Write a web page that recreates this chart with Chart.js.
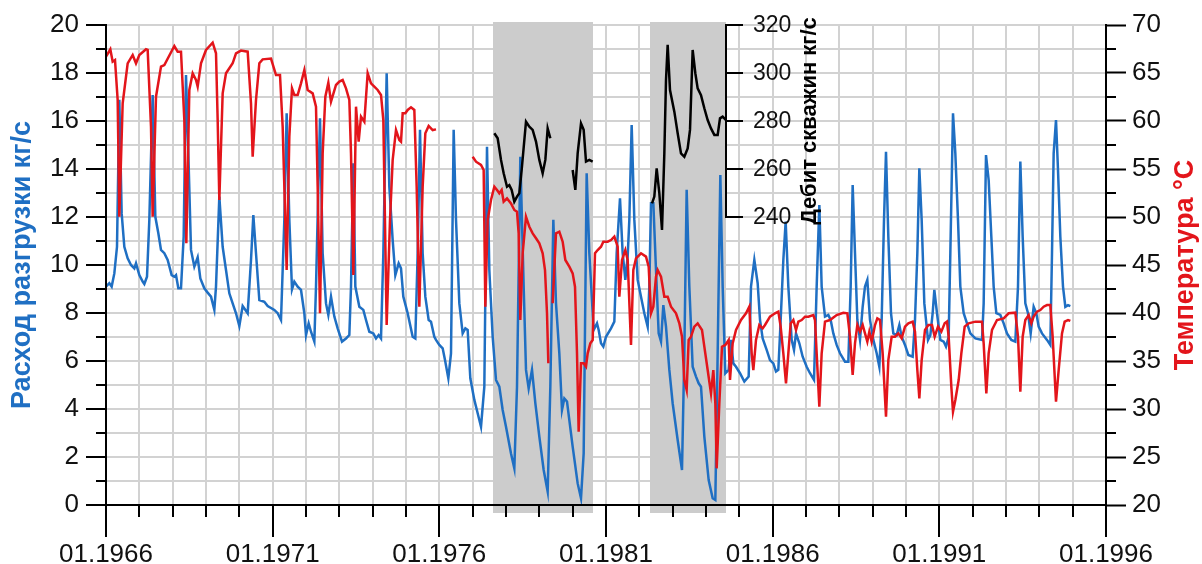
<!DOCTYPE html>
<html>
<head>
<meta charset="utf-8">
<script src="https://cdn.jsdelivr.net/npm/chart.js@4.4.0/dist/chart.umd.min.js"></script>
<style>
  html, body { margin: 0; padding: 0; background: #fff; }
</style>
</head>
<body>
<canvas id="chart" width="1202" height="564"></canvas>
<script>
// --- data ---
const xLabelYears = [1966, 1971, 1976, 1981, 1986, 1991, 1996];
const leftLabels = [0, 2, 4, 6, 8, 10, 12, 14, 16, 18, 20];
const rightLabels = [20, 25, 30, 35, 40, 45, 50, 55, 60, 65, 70];
const debitLabels = [240, 260, 280, 300, 320];

// shaded periods (years)
const shadeFrom = [1977.61, 1982.32];
const shadeTo = [1980.61, 1984.6];

// Расход разгрузки, кг/с
const blueYears = [
  1966.00, 1966.10, 1966.17, 1966.25, 1966.33, 1966.40, 1966.47, 1966.55, 1966.65, 1966.75, 1966.85, 1966.90,
  1967.00, 1967.10, 1967.15, 1967.23, 1967.30, 1967.40, 1967.48, 1967.57, 1967.65, 1967.75, 1967.85, 1967.97,
  1968.05, 1968.10, 1968.17, 1968.25, 1968.33, 1968.40, 1968.47, 1968.55, 1968.65, 1968.75, 1968.83, 1968.95,
  1969.05, 1969.15, 1969.25, 1969.30, 1969.40, 1969.50, 1969.60, 1969.70, 1969.80, 1969.90,
  1970.00, 1970.10, 1970.25, 1970.35, 1970.42, 1970.50, 1970.60, 1970.75, 1970.85,
  1971.05, 1971.15, 1971.25, 1971.30, 1971.35, 1971.42, 1971.50, 1971.58, 1971.65, 1971.75, 1971.85, 1971.95,
  1972.00, 1972.08, 1972.15, 1972.25, 1972.30, 1972.42, 1972.50, 1972.60, 1972.67, 1972.75, 1972.85, 1972.95,
  1973.08, 1973.20, 1973.30, 1973.35, 1973.42, 1973.48, 1973.60, 1973.72, 1973.80, 1973.90,
  1974.02, 1974.10, 1974.18, 1974.25, 1974.32, 1974.42, 1974.50, 1974.60, 1974.68, 1974.78, 1974.85, 1974.92,
  1975.05, 1975.20, 1975.28, 1975.35, 1975.42, 1975.50, 1975.58, 1975.68, 1975.75, 1975.85, 1975.90,
  1976.00, 1976.10, 1976.17, 1976.27, 1976.35, 1976.43, 1976.50, 1976.60, 1976.70, 1976.78, 1976.85, 1976.93,
  1977.05, 1977.15, 1977.25, 1977.35, 1977.43, 1977.50, 1977.60, 1977.70, 1977.80, 1977.90,
  1978.00, 1978.15, 1978.25, 1978.33, 1978.43, 1978.53, 1978.60, 1978.68, 1978.78, 1978.88,
  1979.00, 1979.13, 1979.25, 1979.33, 1979.42, 1979.50, 1979.60, 1979.68, 1979.75, 1979.83, 1979.90,
  1980.00, 1980.15, 1980.25, 1980.33, 1980.42, 1980.50, 1980.63, 1980.73, 1980.78, 1980.85, 1980.92,
  1981.00, 1981.15, 1981.25, 1981.32, 1981.42, 1981.50, 1981.58, 1981.65, 1981.70, 1981.77, 1981.85, 1981.95,
  1982.05, 1982.15, 1982.25, 1982.30, 1982.35, 1982.42, 1982.50, 1982.58, 1982.65, 1982.72, 1982.80, 1982.90,
  1983.00, 1983.15, 1983.28, 1983.35, 1983.42, 1983.50, 1983.60, 1983.70, 1983.78, 1983.85, 1983.95,
  1984.08, 1984.20, 1984.28, 1984.35, 1984.43, 1984.50, 1984.58, 1984.68, 1984.75, 1984.82, 1984.90,
  1985.02, 1985.15, 1985.28, 1985.35, 1985.45, 1985.55, 1985.62, 1985.70, 1985.82, 1985.92,
  1986.02, 1986.10, 1986.17, 1986.24, 1986.32, 1986.39, 1986.47, 1986.57, 1986.64, 1986.70, 1986.80, 1986.90,
  1987.02, 1987.12, 1987.24, 1987.32, 1987.40, 1987.47, 1987.57, 1987.67, 1987.74, 1987.82, 1987.92,
  1988.02, 1988.17, 1988.27, 1988.34, 1988.40, 1988.47, 1988.54, 1988.62, 1988.70, 1988.77, 1988.84, 1988.92,
  1989.02, 1989.12, 1989.20, 1989.27, 1989.34, 1989.40, 1989.47, 1989.55, 1989.62, 1989.72, 1989.80, 1989.87, 1989.97,
  1990.07, 1990.20, 1990.27, 1990.34, 1990.40, 1990.47, 1990.55, 1990.66, 1990.73, 1990.80, 1990.85, 1990.93,
  1991.03, 1991.13, 1991.20, 1991.28, 1991.33, 1991.41, 1991.48, 1991.56, 1991.63, 1991.73, 1991.83, 1991.93,
  1992.08, 1992.28, 1992.33, 1992.40, 1992.48, 1992.56, 1992.63, 1992.71, 1992.83, 1992.93,
  1993.03, 1993.16, 1993.28, 1993.36, 1993.43, 1993.50, 1993.58, 1993.66, 1993.74, 1993.83, 1993.91, 1993.98,
  1994.08, 1994.23, 1994.33, 1994.38, 1994.43, 1994.50, 1994.56, 1994.63, 1994.71, 1994.78, 1994.86, 1994.93
];
const blueValues = [
  9.1, 9.24, 9.1, 9.65, 10.76, 16.88, 12.15, 10.76, 10.28, 10.0, 9.86, 10.07,
  9.58, 9.31, 9.21, 9.51, 11.88, 17.08, 12.01, 11.32, 10.63, 10.49, 10.21, 9.58,
  9.51, 9.58, 9.03, 9.03, 11.18, 17.92, 14.65, 10.63, 9.93, 10.32, 9.44, 9.03,
  8.85, 8.68, 8.13, 9.1, 12.85, 10.76, 9.79, 8.82, 8.4, 7.99,
  7.46, 8.29, 7.99, 10.21, 12.08, 10.49, 8.54, 8.47, 8.29,
  8.13, 7.99, 7.71, 9.79, 11.88, 16.32, 11.88, 8.99, 9.31, 9.1, 8.96, 7.99,
  7.08, 7.57, 7.22, 6.81, 9.1, 16.11, 10.49, 8.4, 7.92, 8.68, 7.85, 7.36,
  6.81, 6.94, 7.08, 9.1, 14.24, 9.1, 8.26, 8.13, 7.71, 7.22,
  7.15, 6.94, 7.08, 6.94, 10.49, 17.99, 13.26, 11.04, 9.58, 10.07, 9.86, 8.68,
  7.99, 7.01, 6.94, 10.49, 15.63, 10.49, 8.68, 7.71, 7.64, 7.01, 6.88,
  6.67, 6.53, 6.04, 5.28, 6.32, 15.63, 11.88, 8.4, 7.15, 7.36, 7.29, 5.28,
  4.38, 3.82, 3.26, 4.93, 14.93, 9.79, 7.01, 5.21, 4.93, 3.96,
  3.26, 2.15, 1.53, 4.93, 14.51, 9.1, 5.63, 4.86, 5.63, 4.24,
  2.85, 1.46, 0.56, 4.93, 11.88, 8.4, 6.32, 3.96, 4.44, 4.31, 3.54,
  2.43, 0.9, 0.28, 2.15, 13.82, 10.49, 7.29, 7.57, 7.29, 6.74, 6.6,
  7.01, 7.36, 7.64, 10.49, 12.78, 10.49, 9.38, 10.35, 11.88, 15.83, 11.88, 9.38,
  8.68, 7.99, 7.43, 9.1, 12.57, 12.57, 9.79, 7.15, 6.81, 8.33, 7.43, 5.63,
  4.24, 2.71, 1.46, 6.32, 13.13, 9.1, 5.76, 5.35, 5.07, 4.93, 2.85,
  1.04, 0.28, 0.21, 6.32, 13.75, 9.1, 5.49, 5.63, 6.88, 5.9, 5.76,
  5.49, 5.14, 5.35, 9.1, 10.21, 9.24, 7.71, 6.94, 6.46, 6.04,
  5.9, 5.56, 5.63, 7.71, 10.21, 11.81, 9.1, 6.88, 6.46, 7.15, 6.74, 6.18,
  5.76, 5.49, 5.21, 9.1, 12.5, 9.1, 7.85, 7.92, 7.71, 7.15, 6.67,
  6.32, 5.97, 5.97, 9.1, 13.33, 10.49, 7.71, 6.88, 8.26, 9.1, 9.38, 7.71,
  6.88, 6.32, 5.76, 7.71, 11.88, 14.72, 11.18, 7.99, 7.15, 7.08, 7.5, 7.01, 6.67,
  6.25, 6.18, 7.71, 10.49, 14.03, 11.88, 8.4, 6.88, 7.08, 7.99, 8.96, 7.99,
  6.88, 6.81, 6.6, 7.01, 10.49, 16.32, 14.65, 11.88, 9.1, 7.99, 7.57, 7.15,
  6.94, 6.88, 8.4, 14.58, 13.54, 11.18, 9.1, 7.99, 7.92, 7.57,
  7.15, 6.88, 6.81, 9.1, 14.31, 11.18, 8.4, 7.99, 7.15, 8.26, 7.99, 7.43,
  7.15, 6.88, 6.67, 10.49, 14.65, 16.04, 13.96, 11.18, 9.1, 8.26, 8.33, 8.29
];

// Температура, °C (null = no measurement)
const redYears = [
  1966.00, 1966.13, 1966.20, 1966.27, 1966.35, 1966.40, 1966.50, 1966.65, 1966.80, 1966.90,
  1967.00, 1967.20, 1967.25, 1967.35, 1967.40, 1967.50, 1967.65, 1967.75,
  1968.05, 1968.15, 1968.25, 1968.35, 1968.41, 1968.50, 1968.60, 1968.70, 1968.75, 1968.85,
  1969.00, 1969.20, 1969.30, 1969.35, 1969.40, 1969.50, 1969.60, 1969.80, 1969.90,
  1970.05, 1970.25, 1970.35, 1970.40, 1970.50, 1970.60, 1970.70, 1970.95,
  1971.10, 1971.22, 1971.30, 1971.42, 1971.50, 1971.58, 1971.65, 1971.75, 1971.85, 1971.95,
  1972.05, 1972.20, 1972.30, 1972.35, 1972.42, 1972.50, 1972.58, 1972.67, 1972.75, 1972.90,
  1973.00, 1973.10, 1973.20, 1973.30, 1973.35, 1973.42, 1973.50, 1973.58, 1973.65, 1973.75, 1973.85, 1973.95,
  1974.05, 1974.15, 1974.25, 1974.32, 1974.42, 1974.52, 1974.60, 1974.70, 1974.80, 1974.85, 1974.90, 1974.98,
  1975.05, 1975.15, 1975.25, 1975.32, 1975.40, 1975.50, 1975.58, 1975.68, 1975.80, 1975.90,
  1976.50,
  1977.00, 1977.10, 1977.25, 1977.33, 1977.38, 1977.45, 1977.55, 1977.65, 1977.73, 1977.80, 1977.87, 1977.93,
  1978.03, 1978.15, 1978.25, 1978.33, 1978.38, 1978.43, 1978.50, 1978.60, 1978.70, 1978.80, 1978.90,
  1979.00, 1979.10, 1979.17, 1979.23, 1979.27, 1979.33,
  1979.40, 1979.50, 1979.60, 1979.70, 1979.78, 1979.90,
  1980.00, 1980.07, 1980.13, 1980.18, 1980.25, 1980.33, 1980.40, 1980.45, 1980.53, 1980.60, 1980.67, 1980.75, 1980.85, 1980.92,
  1981.05, 1981.15, 1981.25, 1981.35, 1981.40, 1981.48, 1981.58, 1981.65, 1981.75, 1981.82, 1981.90,
  1982.05, 1982.20, 1982.28, 1982.35, 1982.42, 1982.50, 1982.55, 1982.65, 1982.75, 1982.85, 1982.95,
  1983.10, 1983.20, 1983.28, 1983.35, 1983.42, 1983.48, 1983.55, 1983.65, 1983.75, 1983.88, 1983.95,
  1984.05, 1984.15, 1984.22, 1984.28, 1984.32, 1984.40, 1984.48, 1984.58, 1984.68, 1984.72, 1984.80, 1984.90,
  1985.05, 1985.20, 1985.30, 1985.37, 1985.42, 1985.50, 1985.60, 1985.70, 1985.77, 1985.92,
  1986.07, 1986.17, 1986.24, 1986.32, 1986.40, 1986.47, 1986.54, 1986.62, 1986.70, 1986.77, 1986.87, 1986.97,
  1987.07, 1987.22, 1987.27, 1987.32, 1987.40, 1987.47, 1987.57, 1987.72, 1987.92,
  1988.12, 1988.24, 1988.32, 1988.40, 1988.47, 1988.54, 1988.62, 1988.70, 1988.77, 1988.84, 1988.90, 1988.97,
  1989.07, 1989.14, 1989.22, 1989.30, 1989.40, 1989.47, 1989.57, 1989.67, 1989.77, 1989.87, 1989.97,
  1990.07, 1990.20, 1990.27, 1990.34, 1990.40, 1990.47, 1990.57, 1990.67, 1990.78, 1990.86, 1990.96,
  1991.06, 1991.16, 1991.23, 1991.28, 1991.36, 1991.41, 1991.48, 1991.58, 1991.66, 1991.76, 1991.88,
  1992.08, 1992.28, 1992.33, 1992.41, 1992.48, 1992.58, 1992.73, 1992.93,
  1993.08, 1993.28, 1993.36, 1993.43, 1993.50, 1993.58, 1993.68, 1993.76, 1993.83, 1993.93,
  1994.03, 1994.13, 1994.23, 1994.33, 1994.40, 1994.50, 1994.58, 1994.68, 1994.76, 1994.86, 1994.93
];
const redValues = [
  66.7, 67.47, 66.18, 66.35, 62.19, 50.03, 61.84, 66.01, 66.88, 66.01,
  66.88, 67.47, 67.4, 59.41, 50.03, 62.53, 65.66, 65.83,
  67.81, 67.22, 67.22, 60.1, 47.26, 63.23, 64.97, 64.27, 63.58, 66.01,
  67.4, 68.16, 67.05, 60.1, 51.77, 62.88, 64.97, 66.01, 67.05,
  67.33, 67.22, 61.84, 56.28, 62.19, 66.01, 66.42, 66.5,
  64.79, 64.79, 59.41, 44.48, 58.37, 63.4, 62.71, 62.71, 63.92, 65.31,
  63.23, 62.88, 61.49, 53.16, 39.97, 56.63, 62.53, 63.99, 62.01, 63.75,
  64.1, 64.27, 63.4, 62.19, 56.63, 43.96, 61.49, 57.85, 60.45, 59.93, 64.97, 63.92,
  63.58, 63.23, 62.71, 60.1, 38.75, 49.69, 55.94, 59.06, 58.02, 57.85, 60.8, 60.8,
  61.15, 61.42, 61.15, 53.16, 40.66, 53.16, 58.72, 59.48, 59.06, 59.13,
  null,
  56.28, 55.76, 55.42, 54.9, 40.66, 49.69, 51.77, 53.16, 52.81, 52.47, 52.81, 51.6,
  51.94, 51.42, 50.73, 50.56, 48.3, 39.27, 46.22, 50.03, 48.99, 48.3, 47.78,
  47.26, 46.22, 44.48, 39.97, 34.76, null,
  41.01, 48.3, 48.47, 47.43, 45.52, 44.83,
  44.13, 42.74, 35.8, 27.64, 34.76, 34.76, 34.41, 35.8, 36.84, 37.19, 46.22, 46.56, 46.91, 47.43,
  47.43, 47.6, 47.95, 46.91, 41.7, 45.52, 46.56, 45.52, 36.67, 44.48, 45.69,
  46.22, 45.87, 44.83, 39.97, 40.66, 43.78, 44.48, 43.78, 41.7, 41.7, 40.66,
  39.97, 38.92, 37.53, 33.02, 31.98, 37.19, 37.53, 38.58, 38.92, 38.23, 36.49,
  34.06, 31.63, 34.06, 30.59, 23.82, 30.59, 36.49, 36.67, 37.19, 33.02, 36.84, 38.23,
  39.27, 39.97, 40.66, 35.8, 34.06, 37.19, 38.75, 38.4, 38.75, 39.62,
  39.97, 40.14, 38.58, 35.8, 32.67, 35.8, 38.92, 39.27, 38.23, 39.1, 39.27, 39.62,
  39.62, 39.79, 39.27, 35.8, 30.24, 35.8, 39.1, 39.27, 39.79,
  40.03, 39.97, 37.53, 33.54, 36.84, 38.75, 38.06, 38.75, 37.88, 37.01, 38.06, 37.01,
  38.75, 39.44, 39.27, 35.8, 29.2, 35.1, 37.53, 37.53, 37.88, 37.36, 38.58,
  38.92, 39.1, 38.06, 34.06, 31.11, 35.1, 38.23, 38.75, 38.75, 37.53, 38.58,
  38.06, 38.92, 39.1, 37.53, 32.33, 29.72, 30.94, 33.02, 35.8, 38.58, 38.92,
  39.1, 39.1, 36.84, 31.63, 35.8, 38.23, 39.27, 39.44,
  39.97, 40.03, 37.53, 31.81, 37.53, 39.27, 39.79, 38.92, 39.62, 40.14,
  40.31, 40.66, 40.83, 40.83, 37.53, 30.76, 34.06, 37.88, 39.1, 39.27, 39.17
];

// Дебит скважин, кг/с (null = no measurement)
const debitYears = [
  1977.65, 1977.75, 1977.85, 1977.93, 1978.03, 1978.10, 1978.17, 1978.25, 1978.33, 1978.40, 1978.47,
  1978.60, 1978.70, 1978.80, 1978.90, 1979.00, 1979.10, 1979.18, 1979.25, 1979.33,
  1979.60,
  1980.00, 1980.08, 1980.15, 1980.25, 1980.33, 1980.40, 1980.50, 1980.60,
  1981.50,
  1982.38, 1982.45, 1982.52, 1982.60, 1982.68, 1982.75, 1982.80, 1982.85, 1982.92,
  1983.05, 1983.15, 1983.25, 1983.35, 1983.45, 1983.52, 1983.60, 1983.68, 1983.75, 1983.85, 1983.95,
  1984.05, 1984.15, 1984.25, 1984.35, 1984.42, 1984.50, 1984.60
];
const debitValues = [
  274.9, 272.8, 263.8, 258.2, 252.6, 253.3, 251.3, 246.4, 248.5, 249.9, 259.6,
  279.7, 277.6, 276.3, 271.4, 263.8, 258.2, 263.8, 276.9, 272.8,
  null,
  259.6, 251.3, 266.5, 279.0, 276.3, 263.1, 263.8, 263.1,
  null,
  245.7, 248.5, 260.3, 249.9, 234.6, 266.5, 297.1, 311.7, 292.9,
  283.9, 274.9, 266.5, 265.1, 268.6, 276.3, 309.6, 299.9, 293.6, 290.8, 285.3,
  280.4, 276.9, 274.2, 274.2, 281.1, 281.8, 280.4
];

const FONT = '"Liberation Sans", Arial, sans-serif';
const BLUE = '#1f6fc3';
const RED = '#e3151b';
const GRID = '#d2d2d2';
const SHADE = '#cccccc';
const NONE = 'rgba(0,0,0,0)';

const yearTicks = [];
for (let y = 1966; y <= 1996; y++) yearTicks.push(y);

const toPoints = (xs, ys) => xs.map((x, i) => ({ x: x, y: ys[i] }));

// shaded periods, minor ticks, the debit axis and the two right titles
const decorations = {
  id: 'decorations',
  beforeDatasetsDraw(chart) {
    const { ctx, chartArea: a, scales: { x } } = chart;
    ctx.save();
    ctx.fillStyle = SHADE;
    shadeFrom.forEach((from, i) => {
      const x1 = x.getPixelForValue(from);
      const x2 = x.getPixelForValue(shadeTo[i]);
      ctx.fillRect(x1, a.top - 3, x2 - x1, a.bottom - a.top + 11);
    });
    ctx.restore();
  },
  afterDatasetsDraw(chart) {
    const { ctx, chartArea: a, scales: { x, y, y2, yd } } = chart;
    ctx.save();
    ctx.strokeStyle = '#000';
    ctx.lineWidth = 2;
    ctx.beginPath();
    yearTicks.forEach(v => {
      if (xLabelYears.includes(v)) return;
      const px = Math.round(x.getPixelForValue(v));
      ctx.moveTo(px, a.bottom);
      ctx.lineTo(px, a.bottom + 12);
    });
    for (let v = 1; v < 20; v += 2) {
      const py = Math.round(y.getPixelForValue(v));
      ctx.moveTo(a.left - 10, py);
      ctx.lineTo(a.left, py);
    }
    for (let v = 22.5; v < 70; v += 5) {
      const py = Math.round(y2.getPixelForValue(v));
      ctx.moveTo(a.right, py);
      ctx.lineTo(a.right + 10, py);
    }
    ctx.stroke();

    // debit axis, placed at the end of the second shaded period
    const ax = Math.round(x.getPixelForValue(shadeTo[1]));
    const top = yd.getPixelForValue(debitLabels[debitLabels.length - 1]);
    const bottom = yd.getPixelForValue(debitLabels[0]);
    ctx.beginPath();
    ctx.moveTo(ax, top - 1);
    ctx.lineTo(ax, bottom + 1);
    debitLabels.forEach(v => {
      const py = Math.round(yd.getPixelForValue(v));
      ctx.moveTo(ax, py);
      ctx.lineTo(ax + 17, py);
    });
    ctx.stroke();
    ctx.fillStyle = '#111';
    ctx.font = '23px ' + FONT;
    ctx.textAlign = 'left';
    ctx.textBaseline = 'middle';
    debitLabels.forEach(v => {
      ctx.fillText(String(v), ax + 27, yd.getPixelForValue(v) + 1);
    });

    ctx.font = 'bold 22px ' + FONT;
    ctx.textAlign = 'center';
    ctx.save();
    ctx.translate(ax + 84, (top + bottom) / 2);
    ctx.rotate(-Math.PI / 2);
    ctx.fillStyle = '#000';
    ctx.fillText('Дебит скважин кг/с', 0, 0);
    ctx.restore();

    ctx.font = 'bold 27px ' + FONT;
    ctx.save();
    ctx.translate(1186, (a.top + a.bottom) / 2);
    ctx.rotate(-Math.PI / 2);
    ctx.fillStyle = RED;
    ctx.fillText('Температура °C', 0, 0);
    ctx.restore();
    ctx.restore();
  }
};

new Chart(document.getElementById('chart'), {
  type: 'line',
  data: {
    datasets: [
      {
        label: 'Дебит скважин кг/с',
        data: toPoints(debitYears, debitValues),
        yAxisID: 'yd',
        borderColor: '#000',
        borderWidth: 2.5,
        order: 0
      },
      {
        label: 'Температура °C',
        data: toPoints(redYears, redValues),
        yAxisID: 'y2',
        borderColor: RED,
        borderWidth: 2.5,
        order: 1
      },
      {
        label: 'Расход разгрузки кг/с',
        data: toPoints(blueYears, blueValues),
        yAxisID: 'y',
        borderColor: BLUE,
        borderWidth: 2.5,
        order: 2
      }
    ]
  },
  options: {
    responsive: false,
    animation: false,
    devicePixelRatio: 1,
    spanGaps: false,
    elements: { point: { radius: 0 }, line: { tension: 0 } },
    layout: { padding: { top: 25, left: 0, right: 0, bottom: 0 } },
    plugins: { legend: { display: false }, tooltip: { enabled: false } },
    scales: {
      x: {
        type: 'linear',
        min: 1966,
        max: 1996,
        afterBuildTicks: s => { s.ticks = yearTicks.map(v => ({ value: v })); },
        afterFit: s => { s.height = 59; },
        ticks: {
          autoSkip: false,
          maxRotation: 0,
          minRotation: 0,
          padding: 2,
          color: '#111',
          font: { family: FONT, size: 26 },
          callback: v => xLabelYears.includes(v) ? '01.' + v : ''
        },
        grid: {
          color: GRID,
          lineWidth: 2,
          tickLength: 32,
          tickWidth: 2,
          tickColor: c => c.tick && xLabelYears.includes(c.tick.value) ? '#000' : NONE
        },
        border: { display: true, color: '#000', width: 2, z: 1 }
      },
      y: {
        position: 'left',
        min: 0,
        max: 20,
        afterFit: s => { s.width = 106; },
        ticks: {
          stepSize: 1,
          autoSkip: false,
          padding: 7,
          color: '#111',
          font: { family: FONT, size: 26 },
          callback: v => leftLabels.includes(v) ? String(v) : ''
        },
        grid: {
          color: GRID,
          lineWidth: 2,
          tickLength: 20,
          tickWidth: 2,
          tickColor: c => c.tick && leftLabels.includes(c.tick.value) ? '#000' : NONE
        },
        border: { display: true, color: '#000', width: 2, z: 1 },
        title: {
          display: true,
          text: 'Расход разгрузки кг/с',
          color: BLUE,
          font: { family: FONT, size: 27, weight: 'bold' },
          padding: { top: 6, bottom: 0 }
        }
      },
      y2: {
        position: 'right',
        min: 20,
        max: 70,
        afterFit: s => { s.width = 96; },
        ticks: {
          stepSize: 2.5,
          autoSkip: false,
          padding: 6,
          color: '#111',
          font: { family: FONT, size: 26 },
          callback: v => rightLabels.includes(v) ? String(v) : ''
        },
        grid: {
          drawOnChartArea: false,
          tickLength: 20,
          tickWidth: 2,
          tickColor: c => c.tick && rightLabels.includes(c.tick.value) ? '#000' : NONE
        },
        border: { display: true, color: '#000', width: 2, z: 1 }
      },
      yd: {
        display: false,
        position: 'right',
        min: 120,
        max: 320
      }
    }
  },
  plugins: [decorations]
});
</script>
</body>
</html>
